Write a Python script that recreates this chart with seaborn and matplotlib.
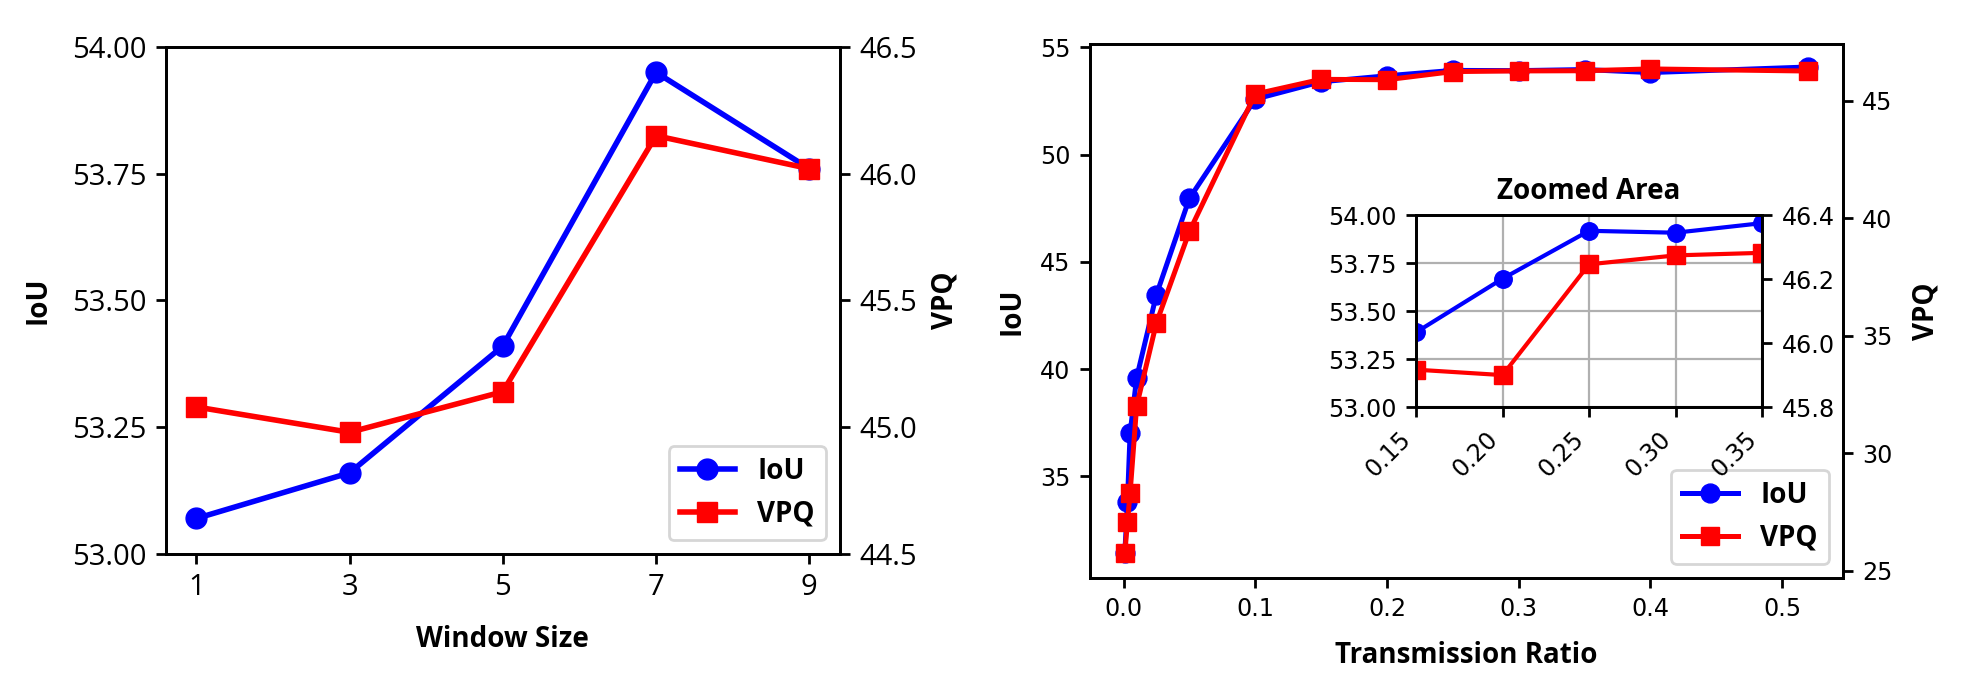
import matplotlib
matplotlib.use("Agg")
import matplotlib.pyplot as plt
import seaborn as sns

# ---------------- data ----------------
window = [1, 3, 5, 7, 9]
win_iou = [53.07, 53.16, 53.41, 53.95, 53.76]
win_vpq = [45.08, 44.98, 45.14, 46.15, 46.02]

ratio = [0.001, 0.003, 0.005, 0.01, 0.025, 0.05, 0.1, 0.15, 0.2, 0.25, 0.3, 0.35, 0.4, 0.52]
ratio_iou = [31.4, 33.8, 37.0, 39.6, 43.47, 47.95, 52.58, 53.39, 53.67, 53.92, 53.91, 53.96, 53.82, 54.08]
ratio_vpq = [25.75, 27.07, 28.3, 32.02, 35.55, 39.44, 45.29, 45.917, 45.90, 46.247, 46.275, 46.283, 46.36, 46.27]

left_iou_ticks = [53.00, 53.25, 53.50, 53.75, 54.00]
left_vpq_ticks = [44.5, 45.0, 45.5, 46.0, 46.5]
right_iou_ticks = [35, 40, 45, 50, 55]
right_vpq_ticks = [25, 30, 35, 40, 45]
inset_x_ticks = [0.15, 0.20, 0.25, 0.30, 0.35]
inset_iou_ticks = [53.00, 53.25, 53.50, 53.75, 54.00]
inset_vpq_ticks = [45.8, 46.0, 46.2, 46.4]

# ---------------- style ----------------
plt.rcParams['font.family'] = ['Open Sans', 'DejaVu Sans']
plt.rcParams['axes.linewidth'] = 1.0
plt.rcParams['xtick.major.width'] = 1.0
plt.rcParams['ytick.major.width'] = 1.0

DPI = 200
fig = plt.figure(figsize=(1967 / DPI, 688 / DPI), dpi=DPI)

label_font = dict(family=['Open Sans', 'DejaVu Sans'], weight='bold', size=10)
leg_font = dict(family=['Open Sans', 'DejaVu Sans'], weight='bold', size=10)


def draw(ax, x, y, color, marker, label, ms, lw):
    sns.lineplot(x=x, y=y, ax=ax, color=color, marker=marker, markersize=ms,
                 linewidth=lw, markeredgecolor=color, markeredgewidth=0.5,
                 label=label, legend=False, sort=False)


# ---------------- left panel ----------------
axL = fig.add_axes([0.0842, 0.1948, 0.4270 - 0.0842, 0.9317 - 0.1948])
axL2 = axL.twinx()
draw(axL, window, win_iou, 'blue', 'o', 'IoU', 7.5, 2.0)
draw(axL2, window, win_vpq, 'red', 's', 'VPQ', 7.5, 2.0)
axL.set_xlim(0.6, 9.4)
axL.set_ylim(53.0, 54.0)
axL2.set_ylim(44.5, 46.5)
axL.set_xticks(window)
axL.set_yticks(left_iou_ticks)
axL.set_yticklabels([f"{v:.2f}" for v in left_iou_ticks])
axL2.set_yticks(left_vpq_ticks)
axL2.set_yticklabels([f"{v:.1f}" for v in left_vpq_ticks])
for a in (axL, axL2):
    for t in a.get_xticklabels() + a.get_yticklabels():
        t.set_fontfamily(['Open Sans', 'DejaVu Sans'])
        t.set_fontsize(10.5)
axL.set_xlabel('Window Size', labelpad=8, **label_font)
axL.set_ylabel('IoU', labelpad=7, **label_font)
axL2.set_ylabel('VPQ', labelpad=5, **label_font)
h1, l1 = axL.get_legend_handles_labels()
h2, l2 = axL2.get_legend_handles_labels()
axL2.legend(h1 + h2, l1 + l2, loc='lower right', prop=leg_font)

# ---------------- right panel ----------------
axR = fig.add_axes([0.5541, 0.1603, 0.9368 - 0.5541, 0.9360 - 0.1603])
axR2 = axR.twinx()
draw(axR, ratio, ratio_iou, 'blue', 'o', 'IoU', 6.8, 1.8)
draw(axR2, ratio, ratio_vpq, 'red', 's', 'VPQ', 6.8, 1.8)
axR.set_xlim(-0.0255, 0.546)
axR.set_ylim(30.27, 55.15)
axR2.set_ylim(24.7, 47.42)
axR.set_xticks([0.0, 0.1, 0.2, 0.3, 0.4, 0.5])
axR.set_yticks(right_iou_ticks)
axR2.set_yticks(right_vpq_ticks)
for a in (axR, axR2):
    for t in a.get_xticklabels() + a.get_yticklabels():
        t.set_fontfamily('DejaVu Sans')
        t.set_fontsize(8.6)
axR.set_xlabel('Transmission Ratio', labelpad=7, **label_font)
axR.set_ylabel('IoU', labelpad=5, **label_font)
axR2.set_ylabel('VPQ', labelpad=7, **label_font)
h1, l1 = axR.get_legend_handles_labels()
h2, l2 = axR2.get_legend_handles_labels()
axR2.legend(h1 + h2, l1 + l2, loc='lower right', prop=leg_font)

# ---------------- inset ----------------
axI = fig.add_axes([0.7199, 0.4084, 0.8958 - 0.7199, 0.6868 - 0.4084])
axI2 = axI.twinx()
draw(axI, ratio, ratio_iou, 'blue', 'o', 'IoU', 6.3, 1.5)
draw(axI2, ratio, ratio_vpq, 'red', 's', 'VPQ', 6.3, 1.5)
axI.set_xlim(0.15, 0.35)
axI.set_ylim(53.0, 54.0)
axI2.set_ylim(45.8, 46.4)
axI.set_xticks(inset_x_ticks)
axI.set_xticklabels([f"{v:.2f}" for v in inset_x_ticks], rotation=45, ha='right')
axI.set_yticks(inset_iou_ticks)
axI.set_yticklabels([f"{v:.2f}" for v in inset_iou_ticks])
axI2.set_yticks(inset_vpq_ticks)
axI2.set_yticklabels([f"{v:.1f}" for v in inset_vpq_ticks])
axI.grid(True, color='#b0b0b0', linewidth=0.8)
axI.set_axisbelow(True)
for a in (axI, axI2):
    for t in a.get_xticklabels() + a.get_yticklabels():
        t.set_fontfamily('DejaVu Sans')
        t.set_fontsize(8.6)
axI.set_title('Zoomed Area', **label_font)

fig.savefig('out.png', dpi=DPI)
